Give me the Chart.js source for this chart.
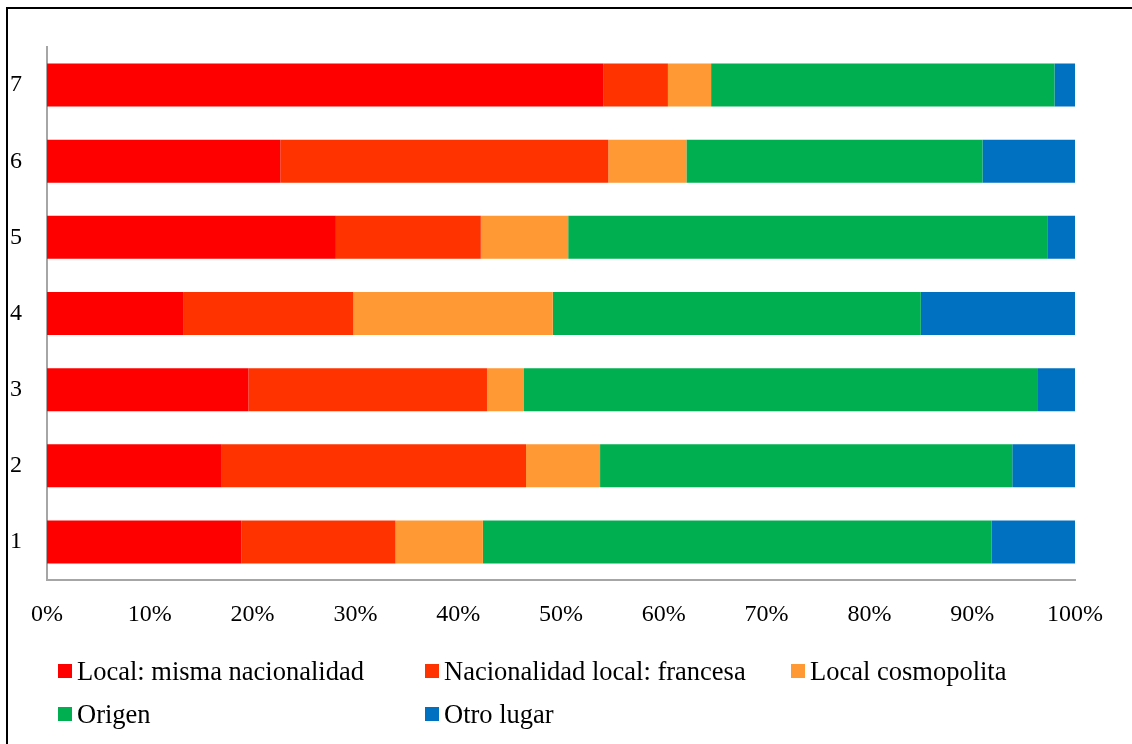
<!DOCTYPE html>
<html>
<head>
<meta charset="utf-8">
<script src="https://cdn.jsdelivr.net/npm/chart.js@4"></script>
<style>
  html, body { margin: 0; padding: 0; background: #fff; }
  #wrap { position: relative; width: 1132px; height: 744px; overflow: hidden; }
  #frame { position: absolute; left: 6px; top: 7px; right: -10px; bottom: -10px;
           border-left: 2px solid #000; border-top: 2px solid #000; pointer-events: none; }
  #legend { position: absolute; left: 58px; top: 655px; display: grid;
            grid-template-columns: 367px 366px auto; row-gap: 11px;
            font-family: "Liberation Serif", "Times New Roman", serif; font-size: 26.5px; color: #000; }
  .item { display: flex; align-items: center; height: 32px; white-space: nowrap; }
  .box { width: 14px; height: 14px; margin-right: 5px; flex: none; }
</style>
</head>
<body>
<div id="wrap">
  <canvas id="barChartCanvas" width="1132" height="744"></canvas>
  <div id="legend"></div>
  <div id="frame"></div>
</div>
<script>
// categorias (de abajo hacia arriba) y porcentajes por serie
const categories = ['1', '2', '3', '4', '5', '6', '7'];
const seriesNames = ['Local: misma nacionalidad', 'Nacionalidad local: francesa', 'Local cosmopolita', 'Origen', 'Otro lugar'];
const localMisma   = [18.9, 17.0, 19.6, 13.3, 28.1, 22.7, 54.1];
const localFrancesa = [15.0, 29.6, 23.2, 16.5, 14.1, 31.9, 6.3];
const cosmopolita  = [8.5, 7.2, 3.6, 19.4, 8.5, 7.6, 4.2];
const origen       = [49.5, 40.1, 50.0, 35.8, 46.6, 28.8, 33.4];
const otroLugar    = [8.1, 6.1, 3.6, 15.0, 2.7, 9.0, 2.0];
const xTicks = [0, 10, 20, 30, 40, 50, 60, 70, 80, 90, 100];

const colors = ['#FF0000', '#FF3300', '#FF9933', '#00B050', '#0070C0'];
const seriesData = [localMisma, localFrancesa, cosmopolita, origen, otroLugar];

const ctx = document.getElementById('barChartCanvas').getContext('2d');
const serif = '"Liberation Serif", "Times New Roman", serif';

const chart = new Chart(ctx, {
    type: 'bar',
    data: {
        labels: categories,
        datasets: seriesNames.map((name, i) => ({
            label: name,
            data: seriesData[i],
            backgroundColor: colors[i],
            borderWidth: 0,
            barPercentage: 0.565,
            categoryPercentage: 1
        }))
    },
    options: {
        indexAxis: 'y',
        responsive: false,
        animation: false,
        layout: {
            padding: { top: 47, right: 57, bottom: 104, left: 0 }
        },
        scales: {
            x: {
                stacked: true,
                min: 0,
                max: 100,
                afterBuildTicks: scale => { scale.ticks = xTicks.map(v => ({ value: v })); },
                afterFit: scale => { scale.height = 60; },
                grid: { display: false, drawTicks: false },
                border: { display: true, color: '#a6a6a6', width: 2 },
                ticks: {
                    padding: 20,
                    color: '#000',
                    font: { family: serif, size: 24 },
                    callback: v => v + '%'
                }
            },
            y: {
                stacked: true,
                reverse: true,
                afterFit: scale => { scale.width = 47; },
                grid: { display: false, drawTicks: false },
                border: { display: true, color: '#a6a6a6', width: 2 },
                ticks: {
                    padding: 25,
                    color: '#000',
                    font: { family: serif, size: 24 }
                }
            }
        },
        plugins: {
            legend: { display: false },
            tooltip: { enabled: false }
        }
    }
});

// leyenda en columnas, como en el original
const legendEl = document.getElementById('legend');
chart.data.datasets.forEach(ds => {
    const item = document.createElement('div');
    item.className = 'item';
    item.innerHTML = '<span class="box" style="background:' + ds.backgroundColor + '"></span>' + ds.label;
    legendEl.appendChild(item);
});
</script>
</body>
</html>
